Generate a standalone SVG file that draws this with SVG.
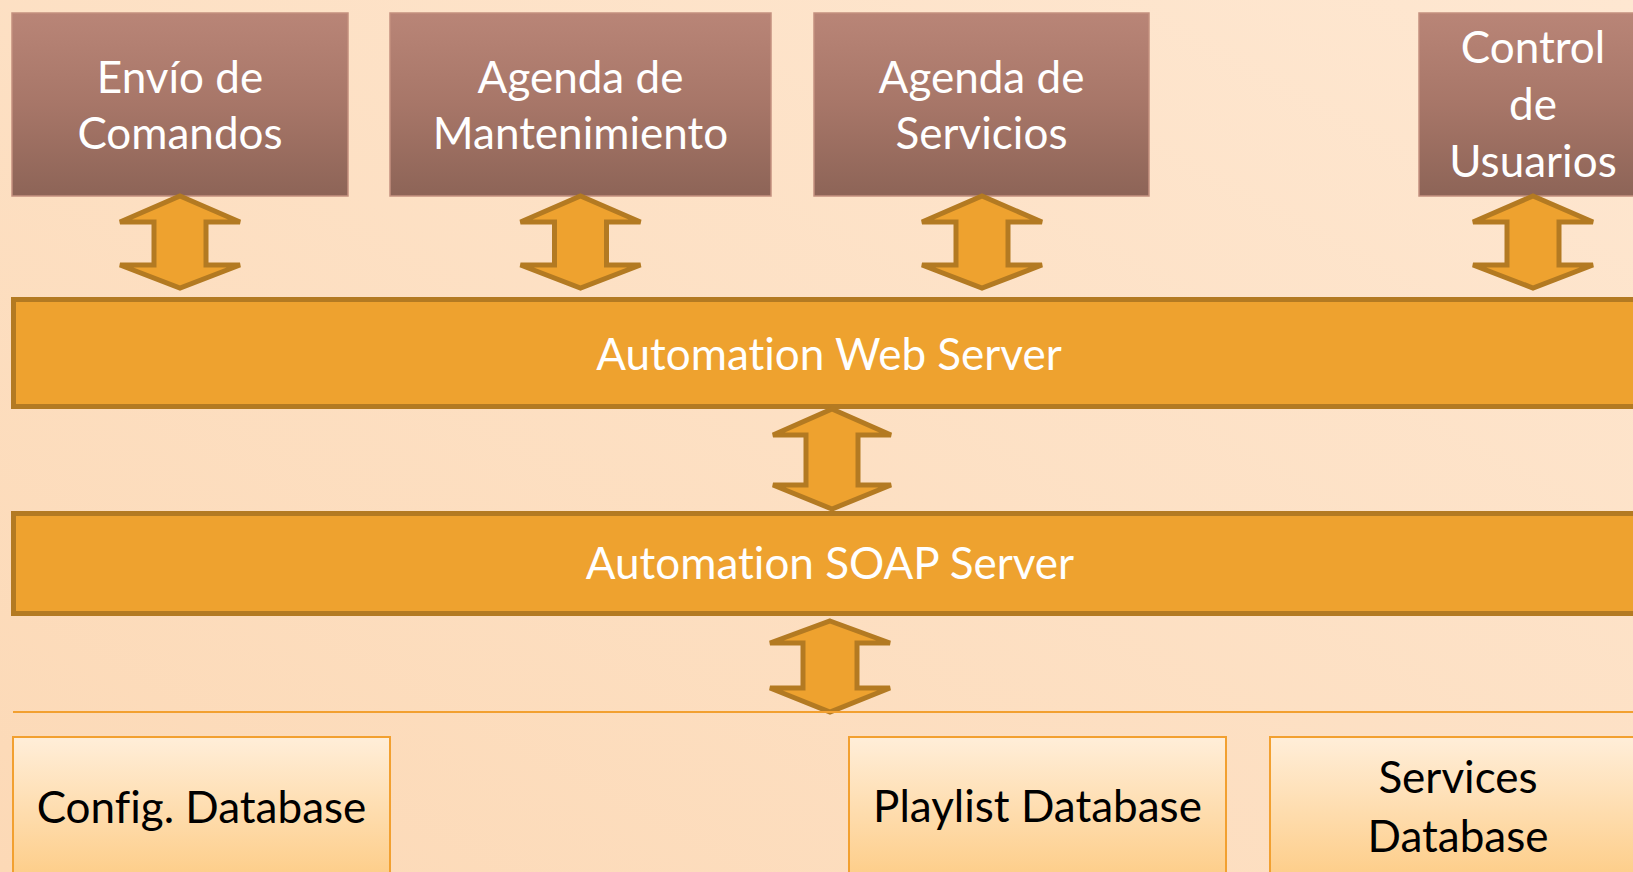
<svg xmlns="http://www.w3.org/2000/svg" width="1633" height="872" viewBox="0 0 1633 872">
  <defs>
    <linearGradient id="bg" x1="0" y1="1" x2="1" y2="0">
      <stop offset="0" stop-color="#FCD9B6"/>
      <stop offset="1" stop-color="#FEE7D1"/>
    </linearGradient>
    <linearGradient id="topBox" x1="0" y1="0" x2="0" y2="1">
      <stop offset="0" stop-color="#B98577"/>
      <stop offset="0.5" stop-color="#A77668"/>
      <stop offset="1" stop-color="#8D6457"/>
    </linearGradient>
    <linearGradient id="dbBox" x1="0" y1="0" x2="0" y2="1">
      <stop offset="0" stop-color="#FFEED9"/>
      <stop offset="1" stop-color="#FDCB83"/>
    </linearGradient>
    <path id="arrowTop" d="M0,196 L60,222 L26,222 L26,265 L60,265 L0,288 L-60,265 L-26,265 L-26,222 L-60,222 Z"/>
    <style>
      text { font-family: Lato, "Open Sans", sans-serif; font-size: 44px; text-anchor: middle; font-variant-ligatures: none; font-feature-settings: "liga" 0, "clig" 0, "dlig" 0, "calt" 0; letter-spacing: 0.01px; }
      .top rect { fill: url(#topBox); stroke: #C4907F; stroke-width: 1.5; }
      .top text { fill: #FFFFFF; }
      .bar rect { fill: #EEA22F; stroke: #B37A22; stroke-width: 5; }
      .bar text { fill: #FFFFFF; }
      .db rect { fill: url(#dbBox); stroke: #F2A030; stroke-width: 2; }
      .db text { fill: #000000; }
      .arrow { fill: #EEA22F; stroke: #B37A22; stroke-width: 5; stroke-linejoin: miter; }
      .sep { stroke: #F2A030; stroke-width: 2; }
    </style>
  </defs>

  <rect x="0" y="0" width="1633" height="872" fill="url(#bg)"/>

  <g id="envio" class="top">
    <rect x="12" y="13" width="336" height="183"/>
    <text x="180" y="93">Envío de</text>
    <text x="180" y="149">Comandos</text>
  </g>
  <g id="agenda-mantenimiento" class="top">
    <rect x="390" y="13" width="381" height="183"/>
    <text x="580.5" y="93">Agenda de</text>
    <text x="580.5" y="149">Mantenimiento</text>
  </g>
  <g id="agenda-servicios" class="top">
    <rect x="814" y="13" width="335" height="183"/>
    <text x="981.5" y="93">Agenda de</text>
    <text x="981.5" y="149">Servicios</text>
  </g>
  <g id="control-usuarios" class="top">
    <rect x="1419" y="13" width="228" height="183"/>
    <text x="1533" y="63">Control</text>
    <text x="1533" y="120">de</text>
    <text x="1533" y="177">Usuarios</text>
  </g>

  <g id="web-server" class="bar">
    <rect x="13.5" y="299.5" width="1640" height="107"/>
    <text x="829" y="370">Automation Web Server</text>
  </g>
  <g id="soap-server" class="bar">
    <rect x="13.5" y="513.5" width="1640" height="100"/>
    <text x="830" y="579">Automation SOAP Server</text>
  </g>

  <g id="config-db" class="db">
    <rect x="13" y="737" width="377" height="150"/>
    <text x="201.5" y="823">Config. Database</text>
  </g>
  <g id="playlist-db" class="db">
    <rect x="849" y="737" width="377" height="150"/>
    <text x="1037.5" y="822">Playlist Database</text>
  </g>
  <g id="services-db" class="db">
    <rect x="1270" y="737" width="376" height="150"/>
    <text x="1458" y="793">Services</text>
    <text x="1458" y="852">Database</text>
  </g>

  <g id="connectors">
    <use href="#arrowTop" class="arrow" transform="translate(180,0)"/>
    <use href="#arrowTop" class="arrow" transform="translate(580.5,0)"/>
    <use href="#arrowTop" class="arrow" transform="translate(982,0)"/>
    <use href="#arrowTop" class="arrow" transform="translate(1533,0)"/>
    <path class="arrow" d="M832,409 L891,435 L858,435 L858,485 L891,485 L832,509 L773,485 L806,485 L806,435 L773,435 Z"/>
    <path class="arrow" d="M830,621 L890,643 L857,643 L857,688 L890,688 L830,712 L770,688 L803,688 L803,643 L770,643 Z"/>
    <line class="sep" x1="13" y1="712" x2="1633" y2="712"/>
  </g>
</svg>
